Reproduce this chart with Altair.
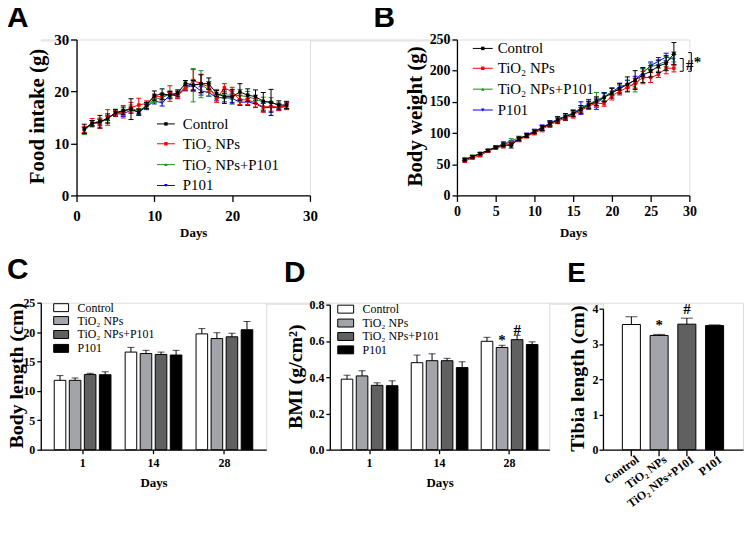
import altair as alt
import pandas as pd

SERIF = "Liberation Serif"
SANS = "Liberation Sans"

groups = ["Control", "TiO₂ NPs", "TiO₂ NPs+P101", "P101"]
line_colors = ["#000000", "#ff0000", "#1e8c1e", "#0000ff"]
line_shapes = ["square", "square", "triangle-up", "triangle-down"]
bar_fills = ["#ffffff", "#a3a3aa", "#606060", "#000000"]

# ---- Panel A: food intake (g) ----
days_a = list(range(1, 28))
food_mean = [
    [12.8, 13.8, 14.2, 14.8, 15.9, 16.3, 16.6, 16.0, 17.3, 19.2, 19.5, 19.3, 19.7, 21.6, 21.2, 21.5, 21.5, 19.6, 19.0, 19.0, 19.9, 19.3, 19.0, 18.1, 17.9, 17.4, 17.4],
    [12.7, 14.1, 13.8, 15.0, 15.8, 16.1, 16.9, 17.4, 17.7, 19.0, 19.0, 19.6, 19.3, 20.6, 22.1, 21.5, 20.9, 18.6, 20.7, 19.9, 18.4, 18.4, 17.8, 17.0, 17.1, 17.0, 17.2],
    [12.4, 13.9, 14.3, 14.6, 16.1, 16.0, 16.8, 16.2, 17.3, 18.5, 18.8, 19.5, 19.5, 21.0, 21.2, 21.4, 20.3, 19.5, 19.3, 19.3, 19.2, 19.0, 18.5, 18.0, 18.0, 17.2, 17.3],
    [12.5, 13.9, 14.0, 14.9, 15.7, 15.7, 16.4, 16.1, 17.0, 18.2, 17.8, 19.3, 19.2, 20.7, 21.2, 20.1, 19.8, 18.8, 18.8, 18.7, 17.9, 18.0, 17.6, 16.9, 16.9, 16.9, 17.1],
]
food_err = [
    [0.9, 0.6, 1.2, 0.9, 0.6, 0.7, 2.0, 0.6, 0.6, 0.9, 1.0, 0.7, 0.6, 0.5, 0.9, 1.7, 1.1, 0.6, 1.3, 1.4, 1.6, 1.2, 1.3, 1.7, 2.5, 0.8, 0.7],
    [0.6, 0.7, 0.9, 1.5, 0.6, 1.2, 1.0, 1.3, 0.5, 0.5, 0.6, 1.5, 0.7, 0.5, 2.1, 1.8, 1.0, 0.7, 0.8, 0.9, 0.9, 0.9, 0.8, 1.0, 0.9, 0.6, 0.7],
    [0.7, 0.5, 0.6, 0.6, 0.5, 0.6, 0.6, 0.5, 0.5, 0.6, 0.8, 0.6, 0.6, 0.5, 3.2, 2.6, 1.2, 0.9, 0.7, 0.8, 1.2, 1.0, 0.8, 0.9, 0.8, 0.6, 0.6],
    [0.6, 0.5, 0.6, 0.5, 0.5, 0.5, 0.6, 0.5, 0.5, 0.6, 0.6, 0.5, 0.5, 0.5, 1.0, 0.8, 0.7, 0.6, 0.8, 0.8, 0.6, 0.7, 0.7, 0.8, 0.9, 0.6, 0.5],
]

# ---- Panel B: body weight (g) ----
days_b = list(range(1, 29))
weight_mean = [
    [57, 62, 67, 72, 77, 81, 80, 91, 96, 102, 108, 115, 121, 126, 131, 138, 145, 151, 157, 164, 171, 178, 185, 193, 199, 207, 212, 227],
    [55, 60, 64, 71, 76, 79, 83, 89, 95, 100, 106, 113, 119, 124, 129, 136, 143, 148, 147, 160, 167, 173, 180, 189, 189, 194, 204, 204],
    [58, 63, 67, 72, 78, 82, 88, 92, 96, 103, 108, 115, 122, 127, 132, 139, 146, 153, 158, 166, 171, 179, 174, 198, 206, 210, 215, 222],
    [58, 62, 67, 72, 77, 83, 85, 90, 97, 103, 109, 116, 122, 127, 132, 140, 147, 147, 158, 166, 174, 178, 185, 197, 208, 215, 222, 218],
]
weight_err = [
    [2, 2, 2, 2, 2, 3, 4, 3, 3, 3, 4, 4, 5, 5, 5, 6, 6, 7, 7, 8, 8, 12, 15, 12, 9, 10, 12, 18],
    [2, 2, 2, 2, 2, 3, 3, 3, 3, 3, 4, 4, 4, 4, 5, 5, 5, 6, 4, 7, 6, 6, 8, 10, 8, 5, 9, 6],
    [2, 2, 2, 2, 2, 2, 3, 3, 3, 3, 4, 4, 4, 4, 5, 5, 5, 12, 6, 6, 6, 6, 8, 6, 6, 6, 8, 8],
    [2, 2, 2, 2, 2, 3, 3, 3, 3, 3, 4, 4, 4, 4, 5, 10, 7, 9, 7, 6, 6, 6, 6, 6, 6, 6, 6, 8],
]

# ---- Panels C, D: bars by day ----
bar_days = ["1", "14", "28"]
length_mean = [[11.8, 16.6, 19.7], [11.8, 16.35, 18.9], [12.8, 16.2, 19.2], [12.75, 16.1, 20.4]]
length_err = [[0.8, 0.8, 0.9], [0.4, 0.55, 1.0], [0.2, 0.4, 0.6], [0.5, 0.8, 1.4]]
bmi_mean = [[0.389, 0.48, 0.598], [0.407, 0.491, 0.564], [0.355, 0.491, 0.607], [0.353, 0.453, 0.58]]
bmi_err = [[0.022, 0.042, 0.022], [0.029, 0.038, 0.012], [0.014, 0.013, 0.024], [0.027, 0.032, 0.015]]
bmi_marks = [("28", "TiO₂ NPs", "*"), ("28", "TiO₂ NPs+P101", "#")]

# ---- Panel E: tibia length ----
tibia_mean = [3.55, 3.24, 3.56, 3.52]
tibia_err = [0.22, 0.03, 0.17, 0.02]
tibia_marks = ["", "*", "#", ""]

one = pd.DataFrame({"k": [0]})


def ax(**kw):
    base = dict(domainColor="black", domainWidth=1.3, tickColor="black", tickWidth=1.3, grid=False,
                labelFont=SERIF, labelFontWeight="bold", labelColor="black", labelOverlap=False,
                titleFont=SERIF, titleFontWeight="bold", titleColor="black",
                titleBaseline="middle", titleAlign="center")
    base.update(kw)
    return alt.Axis(**base)


def letter(ch, x, y, size=30):
    return alt.Chart(one).mark_text(text=ch, font=SANS, fontWeight="bold", fontSize=size,
                                    align="left", baseline="alphabetic", color="black").encode(
        x=alt.value(x), y=alt.value(y))


def line_legend(x0, x1, tx, ys, fs):
    layers = []
    for i, g in enumerate(groups):
        layers.append(alt.Chart(one).mark_rule(color=line_colors[i], strokeWidth=1).encode(
            x=alt.value(x0), x2=alt.value(x1), y=alt.value(ys[i])))
        layers.append(alt.Chart(one).mark_point(filled=True, shape=line_shapes[i], size=12,
                                                color=line_colors[i], opacity=1).encode(
            x=alt.value((x0 + x1) / 2), y=alt.value(ys[i])))
        layers.append(alt.Chart(one).mark_text(text=g, font=SERIF, fontSize=fs, align="left",
                                               baseline="middle", color="black").encode(
            x=alt.value(tx), y=alt.value(ys[i])))
    return layers


def bar_legend(x0, x1, tx, ys, fs):
    layers = []
    for i, g in enumerate(groups):
        layers.append(alt.Chart(one).mark_rect(fill=bar_fills[i], stroke="black", strokeWidth=1).encode(
            x=alt.value(x0), x2=alt.value(x1), y=alt.value(ys[i] - 4), y2=alt.value(ys[i] + 4)))
        layers.append(alt.Chart(one).mark_text(text=g, font=SERIF, fontSize=fs, align="left",
                                               baseline="middle", color="black").encode(
            x=alt.value(tx), y=alt.value(ys[i])))
    return layers


def line_panel(days, means, errs, w, h, ydom, yvals, xvals, ytitle, ytx, yty, lfs, xlp, ylp, ytick):
    xs = alt.Scale(domain=[0, 30], nice=False)
    ys = alt.Scale(domain=ydom, nice=False)
    xa = ax(values=xvals, title="Days", titleFontSize=13, titleX=w / 2, titleY=37,
            labelFontSize=lfs, labelPadding=xlp, tickSize=6, labelFlush=False)
    ya = ax(values=yvals, title=ytitle, titleFontSize=21, titleX=ytx, titleY=yty,
            labelFontSize=lfs, labelPadding=ylp, tickSize=ytick)
    X = alt.X("day:Q", scale=xs, axis=xa)
    layers = []
    for gi in reversed(range(4)):
        df = pd.DataFrame({"day": days, "m": means[gi],
                           "lo": [m - e for m, e in zip(means[gi], errs[gi])],
                           "hi": [m + e for m, e in zip(means[gi], errs[gi])]})
        c = line_colors[gi]
        base = alt.Chart(df)
        layers.append(base.mark_rule(color=c, strokeWidth=1).encode(
            x=X, y=alt.Y("lo:Q", scale=ys, axis=ya), y2="hi:Q"))
        for f in ["lo", "hi"]:
            layers.append(base.mark_rule(color=c, strokeWidth=1, xOffset=-2.5, x2Offset=2.5).encode(
                x=X, x2="day:Q", y=alt.Y(f + ":Q", scale=ys, axis=ya)))
        layers.append(base.mark_line(color=c, strokeWidth=1).encode(
            x=X, y=alt.Y("m:Q", scale=ys, axis=ya)))
        layers.append(base.mark_point(filled=True, shape=line_shapes[gi], size=12, color=c, opacity=1).encode(
            x=X, y=alt.Y("m:Q", scale=ys, axis=ya)))
    return layers, xs, xa, ys, ya


# Panel A
A_layers, _, _, _, _ = line_panel(days_a, food_mean, food_err, 235, 157, [0, 30], [0, 10, 20, 30],
                                  [0, 10, 20, 30], "Food intake (g)", -39, 77, 15, 7, 2, 6)
A_layers += line_legend(81, 99, 107, [85, 105, 126, 147], 15)
A_layers.append(letter("A", -70, -13))
A = alt.layer(*A_layers).properties(width=235, height=157)

# Panel B
B_layers, bxs, bxa, bys, bya = line_panel(days_b, weight_mean, weight_err, 234, 157, [0, 250],
                                          [0, 50, 100, 150, 200, 250], [0, 5, 10, 15, 20, 25, 30],
                                          "Body weight (g)", -42, 77, 14, 3, 2, 5)
brk = pd.DataFrame({"day": [29.2, 30.25], "x0": [28.75, 29.85], "lo": [199, 199], "hi": [219.5, 229]})
B_layers.append(alt.Chart(brk).mark_rule(color="black", strokeWidth=1).encode(
    x=alt.X("day:Q", scale=bxs, axis=bxa), y=alt.Y("lo:Q", scale=bys, axis=bya), y2="hi:Q"))
for f in ["lo", "hi"]:
    B_layers.append(alt.Chart(brk).mark_rule(color="black", strokeWidth=1).encode(
        x=alt.X("x0:Q", scale=bxs, axis=bxa), x2="day:Q",
        y=alt.Y(f + ":Q", scale=bys, axis=bya)))
sig = pd.DataFrame({"day": [29.55, 30.55], "y": [209, 214], "t": ["#", "*"]})
B_layers.append(alt.Chart(sig).mark_text(font=SERIF, fontSize=15, fontWeight="bold", align="left",
                                         baseline="middle", color="black").encode(
    x=alt.X("day:Q", scale=bxs, axis=bxa), y=alt.Y("y:Q", scale=bys, axis=bya), text="t:N"))
B_layers += line_legend(16, 36, 41, [9, 29, 50, 71], 15)
B_layers.append(letter("B", -84, -13))
B = alt.layer(*B_layers).properties(width=234, height=157)

ROW2_H = 148


def bar_panel(means, errs, w, top, ydom, yvals, yfmt, ytitle, ytx, yty, pi, po, marks):
    rows = []
    for gi, g in enumerate(groups):
        for di, d in enumerate(bar_days):
            rows.append({"day": d, "group": g, "m": means[gi][di], "hi": means[gi][di] + errs[gi][di]})
    df = pd.DataFrame(rows)
    ys = alt.Scale(domain=ydom, nice=False, range=[ROW2_H, top])
    xa = ax(title="Days", titleFontSize=13, titleX=w / 2, titleY=33, labelAngle=0,
            labelFontSize=12, labelPadding=4, tickSize=4)
    ya = ax(values=yvals, format=yfmt, title=ytitle, titleFontSize=20, titleX=ytx, titleY=yty,
            labelFontSize=12, labelPadding=2, tickSize=4)
    X = alt.X("day:N", sort=bar_days, scale=alt.Scale(paddingInner=pi, paddingOuter=po), axis=xa)
    XO = alt.XOffset("group:N", sort=groups, scale=alt.Scale(paddingInner=0.23, paddingOuter=0))
    layers = [
        alt.Chart(df).mark_bar(stroke="black", strokeWidth=1).encode(
            x=X, xOffset=XO, y=alt.Y("m:Q", scale=ys, axis=ya),
            color=alt.Color("group:N", scale=alt.Scale(domain=groups, range=bar_fills), legend=None)),
        alt.Chart(df).mark_rule(color="black", strokeWidth=1).encode(
            x=X, xOffset=XO, y=alt.Y("m:Q", scale=ys, axis=ya), y2="hi:Q"),
        alt.Chart(df).mark_tick(color="black", thickness=1, orient="horizontal").encode(
            x=X, xOffset=XO, y=alt.Y("hi:Q", scale=ys, axis=ya), size=alt.value(7)),
    ]
    if marks:
        mk = pd.DataFrame([{"day": d, "group": g, "t": t,
                            "hi": means[groups.index(g)][bar_days.index(d)] + errs[groups.index(g)][bar_days.index(d)]}
                           for d, g, t in marks])
        layers.append(alt.Chart(mk).mark_text(font=SERIF, fontSize=15, fontWeight="bold",
                                              baseline="alphabetic", color="black", dy=0).encode(
            x=X, xOffset=XO, y=alt.Y("hi:Q", scale=ys, axis=ya), text="t:N"))
    return layers


C_layers = bar_panel(length_mean, length_err, 227, 0, [0, 25], [0, 5, 10, 15, 20, 25], "d",
                     "Body length (cm)", -24, 73, 0.2, 0.19, None)
C_layers += bar_legend(13, 28, 37, [5, 18, 32, 46], 12)
C_layers.append(letter("C", -34, -24))
C = alt.layer(*C_layers).properties(width=227, height=ROW2_H)

D_layers = bar_panel(bmi_mean, bmi_err, 221, 2, [0, 0.8], [0, 0.2, 0.4, 0.6, 0.8], ".1f",
                     "BMI (g/cm²)", -35, 74, 0.19, 0.163, bmi_marks)
D_layers += bar_legend(8, 24, 33, [6.5, 20.5, 34, 47.5], 12)
D_layers.append(letter("D", -46, -21))
D = alt.layer(*D_layers).properties(width=221, height=ROW2_H)

# Panel E
E_W = 141
edf = pd.DataFrame({"group": groups, "m": tibia_mean,
                    "hi": [m + e for m, e in zip(tibia_mean, tibia_err)], "t": tibia_marks})
eys = alt.Scale(domain=[0, 4], nice=False, range=[ROW2_H, 6])
exa = ax(title=None, labelAngle=-36, labelAlign="right", labelBaseline="middle", labelFontSize=12,
         labelPadding=2, labelOffset=6, tickSize=6)
eya = ax(values=[0, 1, 2, 3, 4], title="Tibia length (cm)", titleFontSize=20, titleX=-26, titleY=76,
         labelFontSize=12, labelPadding=1, tickSize=4)
EX = alt.X("group:N", sort=groups, scale=alt.Scale(paddingInner=0.35, paddingOuter=0.7), axis=exa)
E_layers = [
    alt.Chart(edf).mark_bar(stroke="black", strokeWidth=1).encode(
        x=EX, y=alt.Y("m:Q", scale=eys, axis=eya),
        color=alt.Color("group:N", scale=alt.Scale(domain=groups, range=bar_fills), legend=None)),
    alt.Chart(edf).mark_rule(color="black", strokeWidth=1).encode(
        x=EX, y=alt.Y("m:Q", scale=eys, axis=eya), y2="hi:Q"),
    alt.Chart(edf).mark_tick(color="black", thickness=1, orient="horizontal").encode(
        x=EX, y=alt.Y("hi:Q", scale=eys, axis=eya), size=alt.value(12)),
    alt.Chart(edf).mark_text(font=SERIF, fontSize=15, fontWeight="bold", baseline="alphabetic",
                             color="black", dy=-4).encode(
        x=EX, y=alt.Y("hi:Q", scale=eys, axis=eya), text="t:N"),
    letter("E", -36, -21, 28),
]
E = alt.layer(*E_layers).properties(width=E_W, height=ROW2_H)


def spacer(w, h):
    return alt.Chart(one).mark_point(opacity=0).encode(
        x=alt.value(0), y=alt.value(0)).properties(width=w, height=h)


row1 = alt.hconcat(spacer(36, 1), A, spacer(148, 1), B, spacing=0, bounds="flush")
row2 = alt.hconcat(C, spacer(64, 1), D, spacer(54, 1), E, spacing=0, bounds="flush")
chart = alt.vconcat(row1, row2, spacing=14).properties(
    padding={"left": -2, "top": -8, "right": 0, "bottom": -4}
).configure_view(stroke=None, strokeWidth=0).configure(font=SERIF)

chart.save("out.html", embed_options={"renderer": "svg", "actions": False})
